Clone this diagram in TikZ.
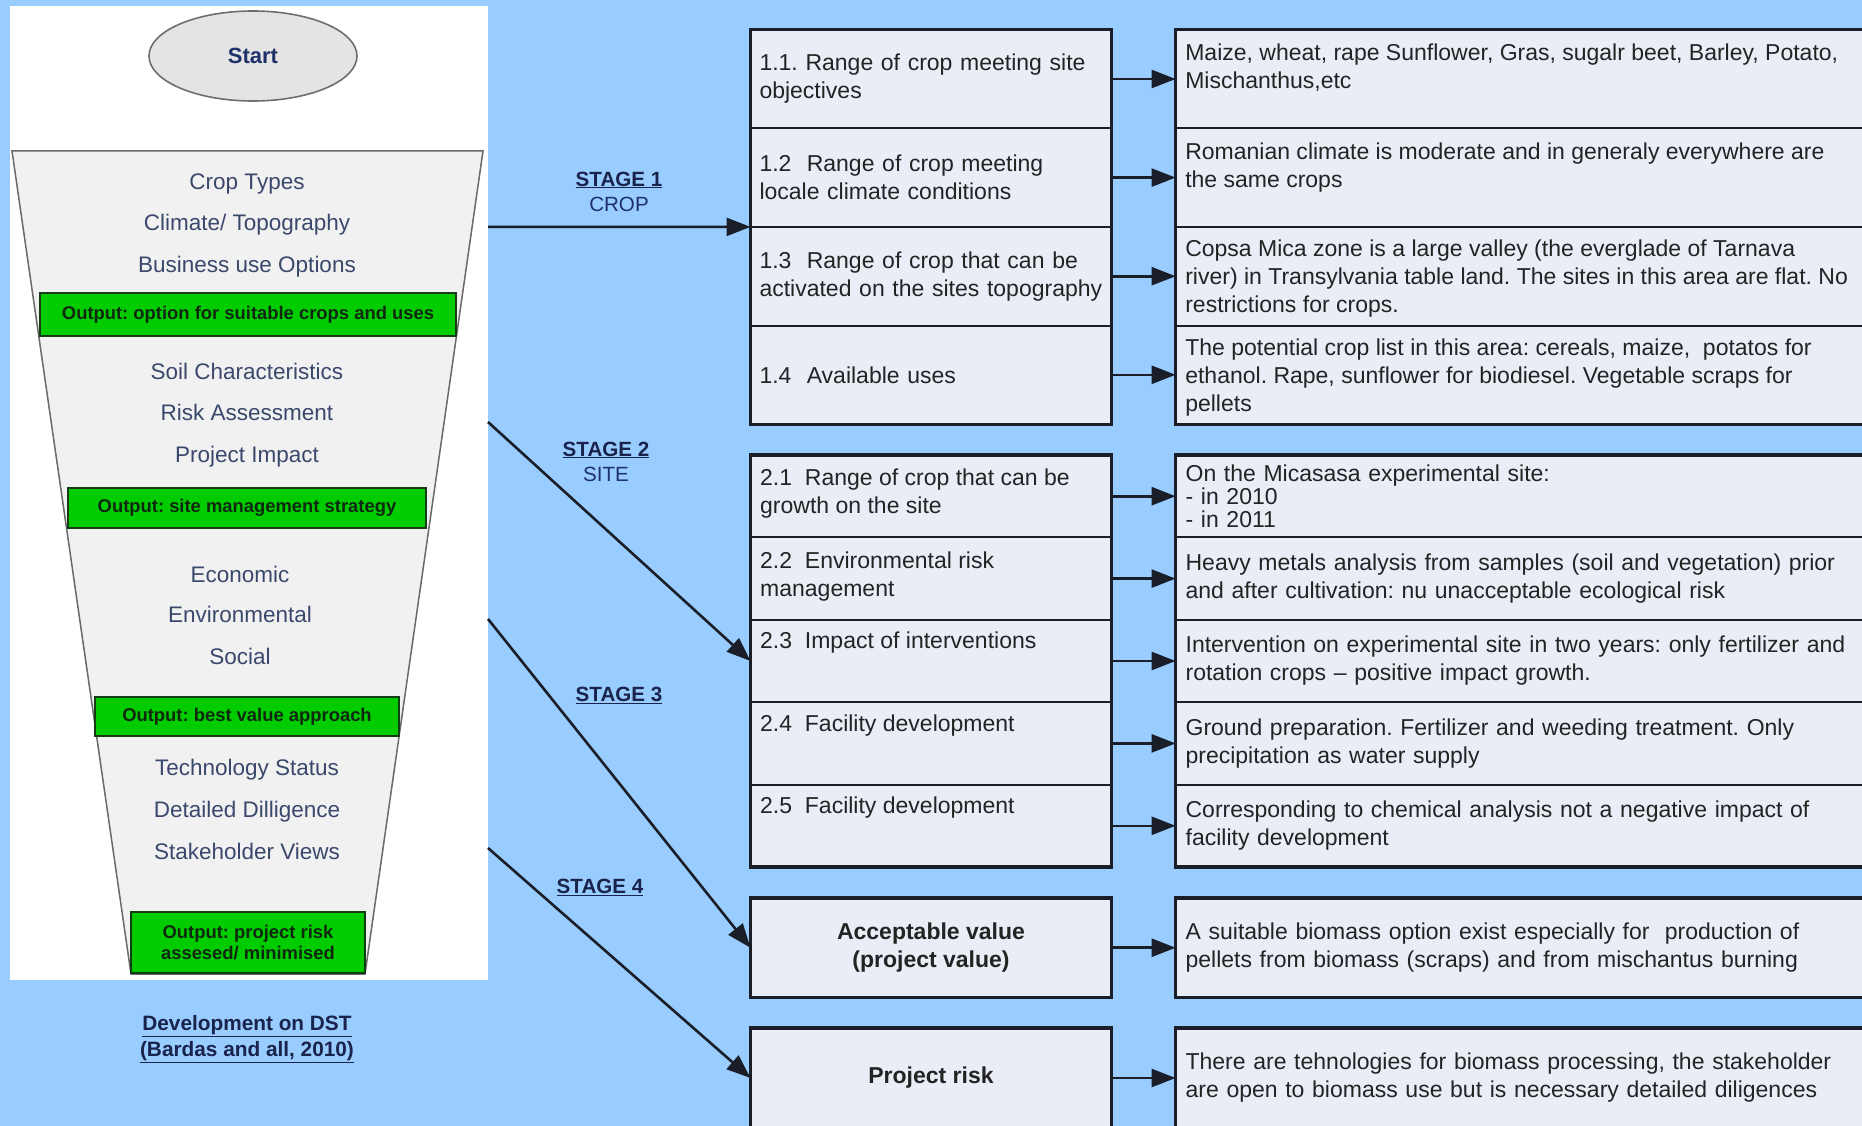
\documentclass[tikz,border=0pt]{standalone}
\usepackage{fontspec}
\setmainfont{Liberation Sans}
\usetikzlibrary{arrows.meta,shapes.geometric,calc}
\definecolor{bgblue}{RGB}{153,204,255}
\definecolor{boxfill}{RGB}{232,237,246}
\definecolor{boxline}{RGB}{25,30,40}
\definecolor{txt}{RGB}{35,35,35}
\definecolor{ftxt}{RGB}{58,72,108}
\definecolor{funfill}{RGB}{241,241,242}
\definecolor{funline}{RGB}{105,105,105}
\definecolor{grn}{RGB}{0,204,0}
\definecolor{grnline}{RGB}{20,60,20}
\definecolor{grntxt}{RGB}{15,40,15}
\definecolor{navy}{RGB}{30,50,105}
\definecolor{stagetxt}{RGB}{25,35,75}
\definecolor{ellfill}{RGB}{228,228,228}
\definecolor{ellline}{RGB}{110,110,110}
\newcommand{\bxfont}{\fontsize{23}{28}\selectfont}
\frenchspacing
\begin{document}
\begin{tikzpicture}[x=1pt,y=-1pt,
  rowbox/.style={rectangle, draw=boxline, fill=boxfill, line width=2pt, inner sep=0pt, outer sep=0pt, anchor=north west},
  lrow/.style={rowbox, text width=343pt, inner xsep=9pt, align=left, font=\bxfont, text=txt},
  rrow/.style={rowbox, text width=685pt, inner xsep=10pt, align=left, font=\bxfont, text=txt},
  toptext/.style={anchor=north west, inner sep=0pt, align=left, font=\bxfont, text=txt},
  frame/.style={draw=boxline, line width=3.2pt},
  ftext/.style={font=\fontsize{22.5}{27}\selectfont, text=ftxt, text height=16pt, text depth=4.5pt, inner sep=0pt},
  gbox/.style={rectangle, draw=grnline, fill=grn, line width=2pt, font=\bfseries\fontsize{18.4}{21}\selectfont, text=grntxt, align=center, inner sep=0pt},
  stagelbl/.style={font=\bfseries\fontsize{20.6}{24}\selectfont, text=stagetxt, inner sep=0pt},
  stagesub/.style={font=\fontsize{20.6}{24}\selectfont, text=navy, inner sep=0pt},
  arr/.style={draw=boxline, line width=2.6pt, -{Triangle[length=24pt,width=18pt]}},
]
\useasboundingbox (0,0) rectangle (1862,1126);
\clip (0,0) rectangle (1862,1126);
\fill[bgblue] (0,0) rectangle (1862,1126);

% left white panel with funnel
\node[fill=white, draw=none, minimum width=478.5pt, minimum height=974pt, anchor=north west, inner sep=0pt, outer sep=0pt] (panel) at (9.5,6) {};
\node[ellipse, draw=ellline, fill=ellfill, line width=1.6pt, minimum width=208pt, minimum height=90pt, font=\bfseries\fontsize{22}{26}\selectfont, text=navy] (start) at (253,56) {Start};
\draw[draw=funline, fill=funfill, line width=1.5pt] (12,151) -- (483,151) -- (365,974) -- (131,974) -- cycle;

\node[ftext] (f1) at (247,184) {Crop Types};
\node[ftext] (f2) at (247,225) {Climate/ Topography};
\node[ftext] (f3) at (247,267) {Business use Options};
\node[gbox, minimum width=416pt, minimum height=43pt] (g1) at (248,314.5) {Output: option for suitable crops and uses};
\node[ftext] (f4) at (247,374) {Soil Characteristics};
\node[ftext] (f5) at (247,415) {Risk Assessment};
\node[ftext] (f6) at (247,457) {Project Impact};
\node[gbox, minimum width=358pt, minimum height=40pt] (g2) at (247,508) {Output: site management strategy};
\node[ftext] (f7) at (240,577) {Economic};
\node[ftext] (f8) at (240,617) {Environmental};
\node[ftext] (f9) at (240,659) {Social};
\node[gbox, minimum width=304pt, minimum height=39pt] (g3) at (247,716.5) {Output: best value approach};
\node[ftext] (f10) at (247,770) {Technology Status};
\node[ftext] (f11) at (247,812) {Detailed Dilligence};
\node[ftext] (f12) at (247,854) {Stakeholder Views};
\node[gbox, minimum width=234pt, minimum height=61pt] (g4) at (248,942.5) {Output: project risk\\assesed/ minimised};

\node[font=\bfseries\fontsize{20.8}{26}\selectfont, text=stagetxt, align=center, inner sep=0pt] (dev) at (247,1039) {\underline{Development on DST}\\\underline{(Bardas and all, 2010)}};

% stage 1 boxes
\node[lrow, minimum height=98.6pt] (r11) at (750.5,29.7) {1.1. Range of crop meeting site\\objectives};
\node[lrow, minimum height=98.6pt] (r12) at (r11.south west) {1.2~ Range of crop meeting\\locale climate conditions};
\node[lrow, minimum height=98.6pt] (r13) at (r12.south west) {1.3~ Range of crop that can be\\activated on the sites topography};
\node[lrow, minimum height=98.6pt] (r14) at (r13.south west) {1.4~ Available uses};
\draw[frame] (r11.north west) rectangle (r14.south east);

\node[rrow, minimum height=98.6pt] (q11) at (1175.6,29.7) {};
\node[rrow, minimum height=98.6pt] (q12) at (q11.south west) {};
\node[rrow, minimum height=98.6pt] (q13) at (q12.south west) {};
\node[rrow, minimum height=98.6pt] (q14) at (q13.south west) {};
\draw[frame] (q11.north west) rectangle (q14.south east);
\node[toptext] (q11t) at ($(q11.north west)+(9.5,14)$) {Maize, wheat, rape Sunflower, Gras, sugalr beet, Barley, Potato,\\Mischanthus,etc};
\node[toptext] (q12t) at ($(q12.north west)+(9.5,14)$) {Romanian climate is moderate and in generaly everywhere are\\the same crops};
\node[toptext] (q13t) at ($(q13.north west)+(9.5,13)$) {Copsa Mica zone is a large valley (the everglade of Tarnava\\river) in Transylvania table land. The sites in this area are flat. No\\restrictions for crops.};
\node[toptext] (q14t) at ($(q14.north west)+(9.5,13)$) {The potential crop list in this area: cereals, maize,~ potatos for\\ethanol. Rape, sunflower for biodiesel. Vegetable scraps for\\pellets};

% stage 2 boxes
\node[lrow, minimum height=82.4pt] (r21) at (750.5,455) {};
\node[lrow, minimum height=82.4pt] (r22) at (r21.south west) {};
\node[lrow, minimum height=82.4pt] (r23) at (r22.south west) {};
\node[lrow, minimum height=82.4pt] (r24) at (r23.south west) {};
\node[lrow, minimum height=82.4pt] (r25) at (r24.south west) {};
\draw[frame] (r21.north west) rectangle (r25.south east);
\node[toptext] (r21t) at ($(r21.north west)+(9.5,14)$) {2.1~ Range of crop that can be\\growth on the site};
\node[toptext] (r22t) at ($(r22.north west)+(9.5,14)$) {2.2~ Environmental risk\\management};
\node[toptext] (r23t) at ($(r23.north west)+(9.5,12)$) {2.3~ Impact of interventions};
\node[toptext] (r24t) at ($(r24.north west)+(9.5,12)$) {2.4~ Facility development};
\node[toptext] (r25t) at ($(r25.north west)+(9.5,12)$) {2.5~ Facility development};

\node[rrow, minimum height=82.4pt, font=\fontsize{23}{22.6}\selectfont] (q21) at (1175.6,455) {On the Micasasa experimental site:\\- in 2010\\- in 2011};
\node[rrow, minimum height=82.4pt] (q22) at (q21.south west) {Heavy metals analysis from samples (soil and vegetation) prior\\and after cultivation: nu unacceptable ecological risk};
\node[rrow, minimum height=82.4pt] (q23) at (q22.south west) {Intervention on experimental site in two years: only fertilizer and\\rotation crops -- positive impact growth.};
\node[rrow, minimum height=82.4pt] (q24) at (q23.south west) {Ground preparation. Fertilizer and weeding treatment. Only\\precipitation as water supply};
\node[rrow, minimum height=82.4pt] (q25) at (q24.south west) {Corresponding to chemical analysis not a negative impact of\\facility development};
\draw[frame] (q21.north west) rectangle (q25.south east);

% stage 3 and 4 boxes
\node[rowbox, line width=3.2pt, minimum width=361pt, minimum height=99.5pt, align=center, font=\bfseries\bxfont, text=txt] (acc) at (750.5,898) {Acceptable value\\(project value)};
\node[rrow, line width=3.2pt, minimum height=99.5pt] (accr) at (1175.6,898) {A suitable biomass option exist especially for~ production of\\pellets from biomass (scraps) and from mischantus burning};
\node[rowbox, line width=3.2pt, minimum width=361pt, minimum height=100pt, font=\bfseries\bxfont, text=txt] (risk) at (750.5,1028) {Project risk};
\node[rrow, line width=3.2pt, minimum height=100pt] (riskr) at (1175.6,1028) {There are tehnologies for biomass processing, the stakeholder\\are open to biomass use but is necessary detailed diligences};

% small arrows
\foreach \a/\b in {r11/q11,r12/q12,r13/q13,r14/q14,r21/q21,r22/q22,r23/q23,r24/q24,r25/q25,acc/accr,risk/riskr}
  \draw[arr] (\a.east) -- (\b.west);

% stage arrows and labels
\coordinate (s1) at (488,226.9);
\coordinate (s2) at (488,422);
\coordinate (s3) at (488,619);
\coordinate (s4) at (488,848);
\draw[arr] (s1) -- (r12.south west);
\draw[arr] (s2) -- (r23.west);
\draw[arr] (s3) -- (acc.west);
\draw[arr] (s4) -- (risk.west);

\node[stagelbl] (st1) at (619,180) {\underline{STAGE 1}};
\node[stagesub] (sub1) at (619,204) {CROP};
\node[stagelbl] (st2) at (606,450) {\underline{STAGE 2}};
\node[stagesub] (sub2) at (606,474) {SITE};
\node[stagelbl] (st3) at (619,695) {\underline{STAGE 3}};
\node[stagelbl] (st4) at (600,887) {\underline{STAGE 4}};
\end{tikzpicture}
\end{document}
